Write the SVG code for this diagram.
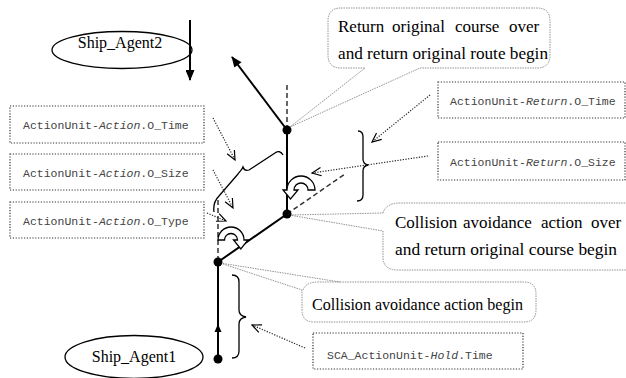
<svg xmlns="http://www.w3.org/2000/svg" width="626" height="378" viewBox="0 0 626 378">
<style>
.box{fill:#fff;stroke:#333;stroke-width:1.2;stroke-dasharray:1.2 1.6}
.lbl{font-family:"Liberation Mono",monospace;font-size:11.5px;fill:#444}
.it{font-style:italic}
.call{fill:#fff;stroke:#777;stroke-width:0.8;stroke-dasharray:1.5 1}
.ct{font-family:"Liberation Serif",serif;font-size:17px;fill:#000}
.ell{fill:#fff;stroke:#000;stroke-width:1.3}
.et{font-family:"Liberation Serif",serif;font-size:16px;fill:#000;text-anchor:middle}
.main{stroke:#000;stroke-width:2;fill:none}
.dash{stroke:#333;stroke-width:1.5;stroke-dasharray:5 3;fill:none}
.dot{stroke:#222;stroke-width:1.2;stroke-dasharray:1.2 1.5;fill:none}
.brace{fill:none;stroke:#000;stroke-width:1.3}
.turn{fill:#fff;stroke:#000;stroke-width:1.3}
</style>
<defs>
<marker id="fa" viewBox="0 0 12 10" refX="11" refY="5" markerUnits="userSpaceOnUse" markerWidth="12" markerHeight="9" orient="auto">
<path d="M0,0 L12,5 L0,10 Z" fill="#000"/>
</marker>
<marker id="va" viewBox="0 0 12 12" refX="11" refY="6" markerUnits="userSpaceOnUse" markerWidth="11" markerHeight="11" orient="auto">
<path d="M1,1.5 L11,6 L1,10.5" fill="none" stroke="#000" stroke-width="1.3"/>
</marker>
</defs>

<g id="callout-return">
<path class="call" d="M341,8 H537 Q550,8 550,21 V55 Q550,68 537,68 H420 L290,127 L365,68 H341 Q328,68 328,55 V21 Q328,8 341,8 Z"/>
<text class="ct" x="338" y="32">Return</text>
<text class="ct" x="392" y="32">original</text>
<text class="ct" x="455" y="32">course</text>
<text class="ct" x="509" y="32">over</text>
<text class="ct" x="338" y="59" textLength="210" lengthAdjust="spacingAndGlyphs">and return original route begin</text>
</g>

<g id="callout-collision-over">
<path class="call" d="M383,213 Q386,203 400,203 H640 V270 H398 Q383,270 383,257 V231 L289,215 Z"/>
<text class="ct" x="395" y="228">Collision</text>
<text class="ct" x="463" y="228">avoidance</text>
<text class="ct" x="541" y="228">action</text>
<text class="ct" x="591" y="228">over</text>
<text class="ct" x="395" y="255" textLength="222" lengthAdjust="spacingAndGlyphs">and return original course begin</text>
</g>

<g id="callout-collision-begin">
<path class="call" d="M303,290 Q306,282 318,282 H340 H524 Q536,282 536,294 V310 Q536,322 524,322 H314 Q302,322 302,310 V290 L220,263 L340,282"/>
<text class="ct" x="312" y="310" textLength="211" lengthAdjust="spacingAndGlyphs">Collision avoidance action begin</text>
</g>

<g id="box-action-time">
<rect class="box" x="10" y="106" width="194" height="37"/>
<text class="lbl" x="23" y="129">ActionUnit-<tspan class="it">Action</tspan>.O_Time</text>
</g>
<g id="box-action-size">
<rect class="box" x="10" y="154" width="194" height="36"/>
<text class="lbl" x="23" y="177">ActionUnit-<tspan class="it">Action</tspan>.O_Size</text>
</g>
<g id="box-action-type">
<rect class="box" x="10" y="202" width="194" height="36"/>
<text class="lbl" x="23" y="225">ActionUnit-<tspan class="it">Action</tspan>.O_Type</text>
</g>
<g id="box-return-time">
<rect class="box" x="438" y="82" width="187" height="36"/>
<text class="lbl" x="450" y="105">ActionUnit-<tspan class="it">Return</tspan>.O_Time</text>
</g>
<g id="box-return-size">
<rect class="box" x="438" y="142" width="187" height="38"/>
<text class="lbl" x="450" y="166">ActionUnit-<tspan class="it">Return</tspan>.O_Size</text>
</g>
<g id="box-hold-time">
<rect class="box" x="313" y="333" width="210" height="36"/>
<text class="lbl" x="327" y="359">SCA_ActionUnit-<tspan class="it">Hold</tspan>.Time</text>
</g>

<g id="ship-agent2">
<ellipse class="ell" cx="122" cy="50" rx="70" ry="18.5"/>
<text class="et" x="120" y="48">Ship_Agent2</text>
</g>
<g id="ship-agent1">
<ellipse class="ell" cx="134" cy="357" rx="69" ry="21.5"/>
<text class="et" x="134" y="362">Ship_Agent1</text>
</g>

<g id="connectors">
<line class="main" x1="190" y1="20" x2="190" y2="80" marker-end="url(#fa)"/>
<line class="dash" x1="287" y1="85" x2="287" y2="126"/>
<line class="dash" x1="218" y1="200" x2="218" y2="258"/>
<line class="dash" x1="287" y1="214" x2="345" y2="174"/>
<polyline class="main" points="218,359 218,262 287,214 287,130"/>
<line class="main" x1="287" y1="130" x2="232" y2="57" stroke-width="1.8" marker-end="url(#fa)"/>
<polygon points="218,324 221.5,332 214.5,332" fill="#000"/>
<circle cx="218" cy="359" r="4.5"/>
<circle cx="218" cy="262" r="4.5"/>
<circle cx="287" cy="214" r="4.5"/>
<circle cx="287" cy="130" r="4.5"/>
<path class="turn" d="M218,240 A13,13 0 0,1 244,240 L248,240 L240.8,249 L233.5,240 L237.5,240 A6.5,6.5 0 0,0 224.5,240 Z"/>
<path class="turn" d="M315,190 A14,14 0 0,0 287,190 L283,190 L290.5,199 L298,190 L294,190 A7,7 0 0,1 308,190 Z"/>
<path class="brace" d="M214,212 C213,205 215,200 219,196 L238,174 C240,171 242,170 243,167 C244,170 246,171 249,170 L275,153 C278,151 281,151 283,155"/>
<path class="brace" d="M358,131 Q363,131 363,137 L363,159 Q363,164 368,165 Q363,166 363,171 L363,195 Q363,201 357,201"/>
<path class="brace" d="M232,275 Q239,275 239,282 L239,310 Q239,316 246,317 Q239,318 239,324 L239,351 Q239,358 232,358"/>
<line class="dot" x1="213" y1="118" x2="235" y2="160" marker-end="url(#va)"/>
<line class="dot" x1="213" y1="170" x2="233" y2="208" marker-end="url(#va)"/>
<line class="dot" x1="207" y1="213" x2="226" y2="221" marker-end="url(#va)"/>
<line class="dot" x1="430" y1="95" x2="372" y2="142" marker-end="url(#va)"/>
<line class="dot" x1="428" y1="156" x2="312" y2="173" marker-end="url(#va)"/>
<line class="dot" x1="305" y1="348" x2="252" y2="325" marker-end="url(#va)"/>
</g>
</svg>
